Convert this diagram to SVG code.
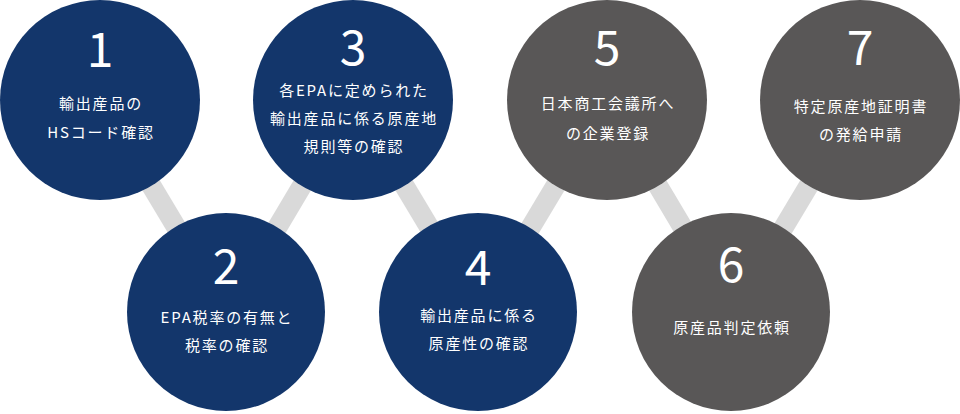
<svg xmlns="http://www.w3.org/2000/svg" width="960" height="414" viewBox="0 0 960 414">
<style>
.navy{fill:#13366b}
.gray{fill:#595757}
.num{font-family:"Noto Sans CJK JP","Noto Sans",sans-serif;font-size:48px;font-weight:400;fill:#fff;text-anchor:middle}
.lbl{font-family:"Noto Sans CJK JP","Noto Sans",sans-serif;font-size:15px;font-weight:400;fill:#fff;text-anchor:middle;letter-spacing:1.8px}
.con{stroke:#d9d9d9;stroke-width:20;fill:none}
</style>
<rect width="960" height="414" fill="#fff"/>
<g id="connectors">
<line class="con" x1="100" y1="100" x2="227" y2="312"/>
<line class="con" x1="227" y1="312" x2="353" y2="100"/>
<line class="con" x1="353" y1="100" x2="480" y2="312"/>
<line class="con" x1="480" y1="312" x2="607" y2="100"/>
<line class="con" x1="607" y1="100" x2="733" y2="312"/>
<line class="con" x1="733" y1="312" x2="860" y2="100"/>
</g>
<g id="node1">
<circle class="navy" cx="100" cy="100" r="100"/>
<text class="num" x="100" y="67">1</text>
<text class="lbl" x="101" y="109">輸出産品の</text>
<text class="lbl" x="101" y="138">HSコード確認</text>
</g>
<g id="node2">
<circle class="navy" cx="226" cy="312" r="99"/>
<text class="num" x="226" y="284">2</text>
<text class="lbl" x="227" y="323">EPA税率の有無と</text>
<text class="lbl" x="227" y="351">税率の確認</text>
</g>
<g id="node3">
<circle class="navy" cx="353" cy="100" r="100"/>
<text class="num" x="353" y="65">3</text>
<text class="lbl" x="354" y="96">各EPAに定められた</text>
<text class="lbl" x="354" y="124">輸出産品に係る原産地</text>
<text class="lbl" x="354" y="152">規則等の確認</text>
</g>
<g id="node4">
<circle class="navy" cx="478" cy="312" r="99"/>
<text class="num" x="478" y="285">4</text>
<text class="lbl" x="479" y="321">輸出産品に係る</text>
<text class="lbl" x="479" y="349">原産性の確認</text>
</g>
<g id="node5">
<circle class="gray" cx="607" cy="100" r="100"/>
<text class="num" x="607" y="65">5</text>
<text class="lbl" x="608" y="109">日本商工会議所へ</text>
<text class="lbl" x="608" y="139">の企業登録</text>
</g>
<g id="node6">
<circle class="gray" cx="731" cy="312" r="99"/>
<text class="num" x="731" y="282">6</text>
<text class="lbl" x="732" y="333">原産品判定依頼</text>
</g>
<g id="node7">
<circle class="gray" cx="860" cy="100" r="100"/>
<text class="num" x="860" y="65">7</text>
<text class="lbl" x="861" y="112">特定原産地証明書</text>
<text class="lbl" x="861" y="140">の発給申請</text>
</g>
</svg>
